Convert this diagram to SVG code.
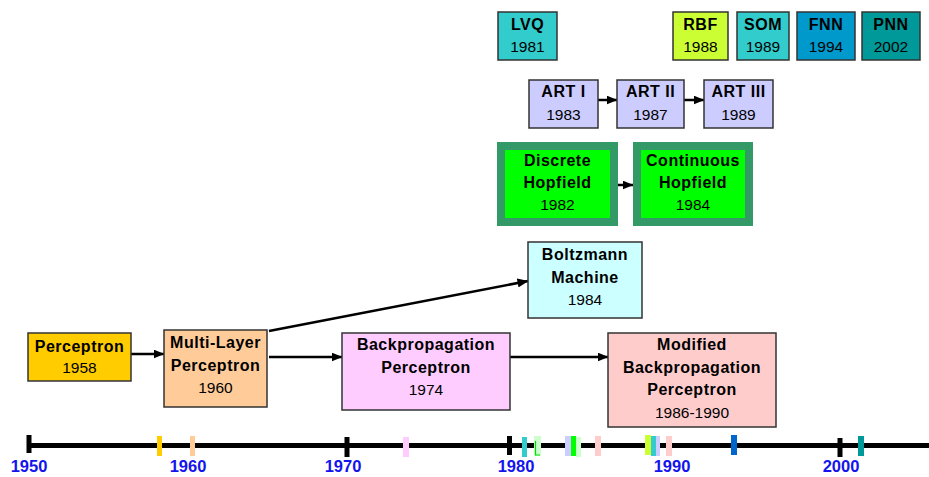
<svg xmlns="http://www.w3.org/2000/svg" width="929" height="477" viewBox="0 0 929 477">
  <style>
    .box { stroke: #333333; stroke-width: 1.5; }
    .hop { stroke: #339966; stroke-width: 8; fill: #00FF00; }
    .t { font-family: "Liberation Sans", Arial, sans-serif; font-size: 15.5px; text-anchor: middle; fill: #000; }
    .b { font-size: 16px; font-weight: bold; letter-spacing: 0.5px; }
    .yr { font-family: "Liberation Sans", Arial, sans-serif; font-size: 16.5px; font-weight: bold; fill: #1414EE; text-anchor: middle; }
    .conn { stroke: #000; stroke-width: 2.5; fill: none; marker-end: url(#arrow); }
  </style>
  <defs>
    <marker id="arrow" viewBox="0 0 11 9" refX="10.5" refY="4.5" markerWidth="11" markerHeight="9" markerUnits="userSpaceOnUse" orient="auto">
      <path d="M0,0 L11,4.5 L0,9 z" fill="#000"/>
    </marker>
  </defs>

  <rect width="929" height="477" fill="#FFFFFF"/>

  <!-- timeline axis -->
  <g id="timeline">
    <line x1="28" y1="445.5" x2="929" y2="445.5" stroke="#000" stroke-width="5"/>
    <rect x="26.5" y="435" width="5" height="18" fill="#000"/>
    <rect x="344.5" y="437" width="5" height="20" fill="#000"/>
    <rect x="507" y="436" width="5" height="19" fill="#000"/>
    <rect x="837.5" y="438" width="5" height="19" fill="#000"/>
    <!-- year markers -->
    <rect x="157" y="436" width="5" height="20" fill="#FFCC00"/>
    <rect x="190" y="436" width="5" height="20" fill="#FFCC99"/>
    <rect x="403" y="437" width="6" height="20" fill="#FFCCFF"/>
    <rect x="522" y="437" width="5" height="20" fill="#33CCCC"/>
    <rect x="534" y="436" width="7" height="20" fill="#CCFFCC"/>
    <path d="M535.5,441 V455 H540" stroke="#00DD00" stroke-width="1.2" fill="none"/>
    <rect x="565" y="436" width="6" height="20" fill="#CCCCFF"/>
    <rect x="571" y="436" width="5" height="20" fill="#00FF00"/>
    <rect x="576" y="437" width="5" height="20" fill="#CCFFCC"/>
    <rect x="595" y="436" width="6" height="20" fill="#FFCCCC"/>
    <rect x="645" y="435" width="6" height="20" fill="#CCFF33"/>
    <rect x="651" y="436" width="5" height="20" fill="#33CCCC"/>
    <rect x="656" y="436" width="4" height="20" fill="#CCCCFF"/>
    <rect x="666" y="436" width="6" height="20" fill="#FFCCCC"/>
    <rect x="731" y="435" width="6" height="20" fill="#0066CC"/>
    <rect x="858" y="436" width="6" height="20" fill="#009999"/>
    <!-- decade labels -->
    <text class="yr" x="29" y="472">1950</text>
    <text class="yr" x="188" y="472">1960</text>
    <text class="yr" x="343" y="472">1970</text>
    <text class="yr" x="516" y="472">1980</text>
    <text class="yr" x="672" y="472">1990</text>
    <text class="yr" x="841" y="472">2000</text>
  </g>

  <!-- connectors -->
  <g id="connectors">
    <line class="conn" x1="131" y1="354" x2="164" y2="354"/>
    <line class="conn" x1="269" y1="357" x2="342" y2="357"/>
    <line class="conn" x1="269" y1="331" x2="528" y2="281"/>
    <line class="conn" x1="510" y1="357" x2="608" y2="357"/>
    <line class="conn" x1="618" y1="185" x2="633" y2="185"/>
    <line class="conn" x1="598" y1="100" x2="617" y2="100"/>
    <line class="conn" x1="684" y1="100" x2="704" y2="100"/>
  </g>

  <g id="perceptron">
    <rect class="box" x="28" y="333" width="103" height="48" fill="#FFCC00"/>
    <text class="t b" x="79.5" y="352">Perceptron</text>
    <text class="t" x="79.5" y="373">1958</text>
  </g>

  <g id="multi-layer-perceptron">
    <rect class="box" x="164" y="330" width="103" height="77" fill="#FFCC99"/>
    <text class="t b" x="215.5" y="348">Multi-Layer</text>
    <text class="t b" x="215.5" y="371">Perceptron</text>
    <text class="t" x="215.5" y="393">1960</text>
  </g>

  <g id="backpropagation-perceptron">
    <rect class="box" x="342" y="333" width="168" height="77" fill="#FFCCFF"/>
    <text class="t b" x="426" y="350">Backpropagation</text>
    <text class="t b" x="426" y="373">Perceptron</text>
    <text class="t" x="426" y="395">1974</text>
  </g>

  <g id="modified-backpropagation">
    <rect class="box" x="608" y="333" width="168" height="94" fill="#FFCCCC"/>
    <text class="t b" x="692" y="350">Modified</text>
    <text class="t b" x="692" y="373">Backpropagation</text>
    <text class="t b" x="692" y="395">Perceptron</text>
    <text class="t" x="692" y="418">1986-1990</text>
  </g>

  <g id="boltzmann-machine">
    <rect class="box" x="528" y="242" width="114" height="76" fill="#CCFFFF"/>
    <text class="t b" x="585" y="260">Boltzmann</text>
    <text class="t b" x="585" y="283">Machine</text>
    <text class="t" x="585" y="305">1984</text>
  </g>

  <g id="discrete-hopfield">
    <rect class="hop" x="501" y="146" width="113" height="76"/>
    <text class="t b" x="557.5" y="166">Discrete</text>
    <text class="t b" x="557.5" y="188">Hopfield</text>
    <text class="t" x="557.5" y="210">1982</text>
  </g>

  <g id="continuous-hopfield">
    <rect class="hop" x="637" y="146" width="112" height="76"/>
    <text class="t b" x="693" y="166">Continuous</text>
    <text class="t b" x="693" y="188">Hopfield</text>
    <text class="t" x="693" y="210">1984</text>
  </g>

  <g id="art-1">
    <rect class="box" x="529" y="80" width="69" height="48" fill="#CCCCFF"/>
    <text class="t b" x="563.5" y="97">ART I</text>
    <text class="t" x="563.5" y="120">1983</text>
  </g>

  <g id="art-2">
    <rect class="box" x="617" y="80" width="67" height="48" fill="#CCCCFF"/>
    <text class="t b" x="650.5" y="97">ART II</text>
    <text class="t" x="650.5" y="120">1987</text>
  </g>

  <g id="art-3">
    <rect class="box" x="704" y="80" width="69" height="48" fill="#CCCCFF"/>
    <text class="t b" x="738.5" y="97">ART III</text>
    <text class="t" x="738.5" y="120">1989</text>
  </g>

  <g id="lvq">
    <rect class="box" x="498" y="12" width="59" height="48" fill="#33CCCC"/>
    <text class="t b" x="527.5" y="30">LVQ</text>
    <text class="t" x="527.5" y="52">1981</text>
  </g>

  <g id="rbf">
    <rect class="box" x="673" y="12" width="55" height="48" fill="#CCFF33"/>
    <text class="t b" x="700.5" y="30">RBF</text>
    <text class="t" x="700.5" y="52">1988</text>
  </g>

  <g id="som">
    <rect class="box" x="737" y="12" width="52" height="48" fill="#33CCCC"/>
    <text class="t b" x="763" y="30">SOM</text>
    <text class="t" x="763" y="52">1989</text>
  </g>

  <g id="fnn">
    <rect class="box" x="797" y="12" width="58" height="48" fill="#0099CC"/>
    <text class="t b" x="826" y="30">FNN</text>
    <text class="t" x="826" y="52">1994</text>
  </g>

  <g id="pnn">
    <rect class="box" x="862" y="12" width="58" height="48" fill="#009999"/>
    <text class="t b" x="891" y="30">PNN</text>
    <text class="t" x="891" y="52">2002</text>
  </g>
</svg>
